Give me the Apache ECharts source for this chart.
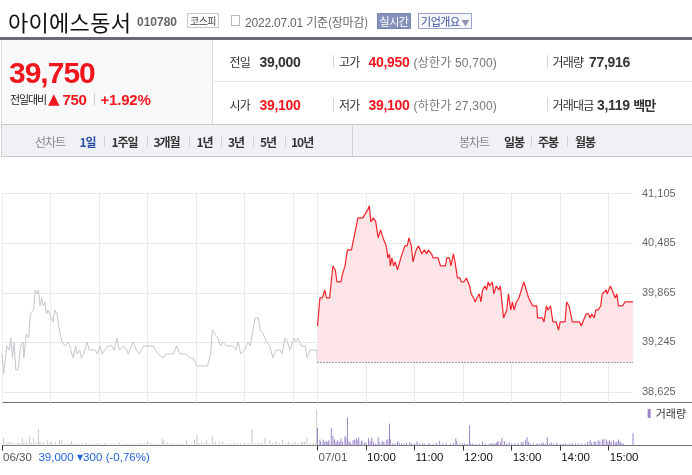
<!DOCTYPE html>
<html><head><meta charset="utf-8">
<script src="https://cdn.jsdelivr.net/npm/echarts@6/dist/echarts.min.js"></script>
<style>
html,body{margin:0;padding:0;background:#fff;width:692px;height:475px;overflow:hidden;}
#chart{position:absolute;left:0;top:0;width:692px;height:475px;}
#hdr{position:absolute;left:0;top:0;width:692px;height:160px;z-index:5;font-family:"Liberation Sans","Noto Sans CJK KR",sans-serif;}
.t{position:absolute;white-space:nowrap;}
.box{position:absolute;box-sizing:border-box;text-align:center;white-space:nowrap;}
.ln{position:absolute;}
.kr{font-family:"Noto Sans CJK KR",sans-serif;}
.red{color:#f0161e;}
</style></head>
<body>
<div id="chart"></div>
<div id="hdr">
  <!-- title row -->
  <div class="t kr" style="left:8px;top:7px;font-size:22px;line-height:28px;letter-spacing:0.3px;color:#111;">아이에스동서</div>
  <div class="t" style="left:137px;top:15px;font-size:12px;line-height:14px;font-weight:bold;color:#666;">010780</div>
  <div class="box kr" style="left:187px;top:13px;width:32px;height:15px;border:1px solid #c8c8c8;font-size:10px;line-height:13px;color:#444;letter-spacing:-0.5px;">코스피</div>
  <div class="box" style="left:231px;top:15px;width:9px;height:11px;border:1px solid #b8b8b8;"></div>
  <div class="t" style="left:245px;top:14px;font-size:12px;line-height:15px;color:#666;letter-spacing:-0.2px;">2022.07.01 <span class="kr">기준(장마감)</span></div>
  <div class="box kr" style="left:377px;top:13px;width:34px;height:16px;background:#8492bc;border:1px solid #7784ae;color:#fff;font-size:11px;line-height:14px;letter-spacing:-0.5px;">실시간</div>
  <div class="box kr" style="left:418px;top:13px;width:54px;height:16px;background:#f5f6fa;border:1px solid #9aa4ca;color:#3c4fa0;font-size:11px;line-height:14px;letter-spacing:-0.5px;">기업개요 <span style="font-size:8px;color:#8a93b5;">▼</span></div>
  <div class="ln" style="left:0;top:37px;width:692px;height:3px;background:#686b73;"></div>
  <!-- left panel -->
  <div class="ln" style="left:1px;top:40px;width:210px;height:84px;background:#f9f9f9;border-right:1px solid #d8d8d8;border-left:1px solid #dcdcdc;"></div>
  <div class="t red" style="left:9px;top:57px;font-size:30px;line-height:32px;font-weight:bold;letter-spacing:-1px;">39,750</div>
  <div class="t kr" style="left:10px;top:92px;font-size:11px;line-height:15px;letter-spacing:-1.1px;color:#222;">전일대비</div>
  <div class="t red" style="left:48px;top:91px;font-size:15px;line-height:17px;font-family:'DejaVu Sans';">▲</div>
  <div class="t red" style="left:62.5px;top:91px;font-size:15px;line-height:17px;font-weight:bold;letter-spacing:-0.3px;">750</div>
  <div class="ln" style="left:94px;top:93px;width:1px;height:13px;background:#cfcfcf;"></div>
  <div class="t red" style="left:100.5px;top:91px;font-size:15px;line-height:17px;font-weight:bold;letter-spacing:-0.2px;">+1.92%</div>
  <!-- info rows -->
  <div class="ln" style="left:212px;top:81px;width:480px;height:1px;background:#e6e6e6;"></div>
  <div class="t kr" style="left:229.5px;top:54px;font-size:12px;line-height:15px;letter-spacing:-0.8px;color:#333;">전일</div>
  <div class="t" style="left:259.5px;top:54px;font-size:14px;line-height:16px;font-weight:bold;letter-spacing:-0.3px;color:#333;">39,000</div>
  <div class="ln" style="left:333px;top:55px;width:1px;height:13px;background:#d5d5d5;"></div>
  <div class="t kr" style="left:339px;top:54px;font-size:12px;line-height:15px;letter-spacing:-0.8px;color:#333;">고가</div>
  <div class="t red" style="left:368.5px;top:54px;font-size:14px;line-height:16px;font-weight:bold;letter-spacing:-0.3px;">40,950</div>
  <div class="t" style="left:413.5px;top:54px;font-size:12px;line-height:15px;letter-spacing:0.2px;color:#777;">(<span class="kr">상한가</span> 50,700)</div>
  <div class="ln" style="left:547px;top:55px;width:1px;height:13px;background:#d5d5d5;"></div>
  <div class="t kr" style="left:552.5px;top:54px;font-size:12px;line-height:15px;letter-spacing:-0.8px;color:#333;">거래량</div>
  <div class="t" style="left:589px;top:54px;font-size:14px;line-height:16px;font-weight:bold;letter-spacing:-0.3px;color:#333;">77,916</div>

  <div class="t kr" style="left:229.5px;top:97px;font-size:12px;line-height:15px;letter-spacing:-0.8px;color:#333;">시가</div>
  <div class="t red" style="left:259.5px;top:97px;font-size:14px;line-height:16px;font-weight:bold;letter-spacing:-0.3px;">39,100</div>
  <div class="ln" style="left:333px;top:98px;width:1px;height:13px;background:#d5d5d5;"></div>
  <div class="t kr" style="left:339px;top:97px;font-size:12px;line-height:15px;letter-spacing:-0.8px;color:#333;">저가</div>
  <div class="t red" style="left:368.5px;top:97px;font-size:14px;line-height:16px;font-weight:bold;letter-spacing:-0.3px;">39,100</div>
  <div class="t" style="left:413.5px;top:97px;font-size:12px;line-height:15px;letter-spacing:0.2px;color:#777;">(<span class="kr">하한가</span> 27,300)</div>
  <div class="ln" style="left:547px;top:98px;width:1px;height:13px;background:#d5d5d5;"></div>
  <div class="t kr" style="left:552.5px;top:97px;font-size:12px;line-height:15px;letter-spacing:-0.8px;color:#333;">거래대금</div>
  <div class="t" style="left:597px;top:97px;font-size:14px;line-height:16px;font-weight:bold;letter-spacing:-0.3px;color:#333;">3,119 <span class="kr" style="font-size:13px;letter-spacing:-1px;">백만</span></div>
  <!-- tab bar -->
  <div class="ln" style="left:1px;top:124px;width:691px;height:31px;background:#f0f1f5;border-top:1px solid #c8c8cc;border-bottom:1px solid #c8c8cc;border-left:1px solid #d0d0d4;"></div>
  <div class="ln" style="left:352px;top:125px;width:1px;height:31px;background:#cfd0d6;"></div>
  <div class="t kr" style="left:35px;top:134px;font-size:12px;line-height:15px;letter-spacing:-1px;color:#888;">선차트</div>
  <div class="t kr" style="left:79.5px;top:134px;font-size:12px;line-height:15px;letter-spacing:-1px;color:#2b4ea9;font-weight:bold;">1일</div>
  <div class="ln" style="left:103.5px;top:136px;width:1px;height:11px;background:#d0d0d0;"></div>
  <div class="t kr" style="left:111.5px;top:134px;font-size:12px;line-height:15px;letter-spacing:-1px;color:#333;font-weight:bold;">1주일</div>
  <div class="ln" style="left:147px;top:136px;width:1px;height:11px;background:#d0d0d0;"></div>
  <div class="t kr" style="left:153.5px;top:134px;font-size:12px;line-height:15px;letter-spacing:-1px;color:#333;font-weight:bold;">3개월</div>
  <div class="ln" style="left:189px;top:136px;width:1px;height:11px;background:#d0d0d0;"></div>
  <div class="t kr" style="left:196.5px;top:134px;font-size:12px;line-height:15px;letter-spacing:-1px;color:#333;font-weight:bold;">1년</div>
  <div class="ln" style="left:220.5px;top:136px;width:1px;height:11px;background:#d0d0d0;"></div>
  <div class="t kr" style="left:228px;top:134px;font-size:12px;line-height:15px;letter-spacing:-1px;color:#333;font-weight:bold;">3년</div>
  <div class="ln" style="left:253px;top:136px;width:1px;height:11px;background:#d0d0d0;"></div>
  <div class="t kr" style="left:260px;top:134px;font-size:12px;line-height:15px;letter-spacing:-1px;color:#333;font-weight:bold;">5년</div>
  <div class="ln" style="left:284.5px;top:136px;width:1px;height:11px;background:#d0d0d0;"></div>
  <div class="t kr" style="left:291px;top:134px;font-size:12px;line-height:15px;letter-spacing:-1px;color:#333;font-weight:bold;">10년</div>
  <div class="t kr" style="left:459px;top:134px;font-size:12px;line-height:15px;letter-spacing:-1px;color:#888;">봉차트</div>
  <div class="t kr" style="left:504px;top:134px;font-size:12px;line-height:15px;letter-spacing:-1px;color:#333;font-weight:bold;">일봉</div>
  <div class="ln" style="left:531px;top:136px;width:1px;height:11px;background:#d0d0d0;"></div>
  <div class="t kr" style="left:538px;top:134px;font-size:12px;line-height:15px;letter-spacing:-1px;color:#333;font-weight:bold;">주봉</div>
  <div class="ln" style="left:567px;top:136px;width:1px;height:11px;background:#d0d0d0;"></div>
  <div class="t kr" style="left:575px;top:134px;font-size:12px;line-height:15px;letter-spacing:-1px;color:#333;font-weight:bold;">월봉</div>
</div>
<script>
// ---- axis definition (minutes from 06/30 09:00; 07/01 09:00 = 390) ----
const days = ['06/30', '07/01'];
const minutesPerDay = 390;
const tickIdx = [0, 390, 450, 510, 570, 630, 690, 750];
const tickLabels = ['06/30', '07/01', '10:00', '11:00', '12:00', '13:00', '14:00', '15:00'];
const gridIdx = [0, 60, 120, 180, 240, 300, 360, 390, 450, 510, 570, 630, 690, 750];
const prevDayText = ['39,000', '▼', '300', '(-0,76%)'];

// ---- price axis ----
const priceMin = 38625, priceMax = 41105, priceStep = 620;
const prevClose = 39000;

// ---- 06/30 price line (gray) ----
const grayT = [0,2,6,9,11,13,15,17,20,23,26,27,30,33,35,37,39,41,43,45,47,49,51,53,55,57,59,63,65,68,70,74,78,82,85,88,91,93,96,98,101,105,108,115,118,121,124,127,131,136,139,142,145,150,154,156,162,166,170,175,187,193,199,203,212,216,220,228,232,236,241,254,258,260,263,267,270,273,278,286,289,292,295,300,304,307,310,313,315,317,319,323,327,331,335,339,344,346,350,353,356,361,363,366,370,375,377,381,389,390];
const grayP = [39100,38850,39200,39150,39300,39050,39250,38900,38900,39200,39250,39050,39350,39300,39600,39600,39650,39900,39850,39900,39700,39800,39700,39750,39600,39650,39650,39500,39650,39600,39450,39250,39200,39250,39150,39050,39200,39100,39150,39050,39100,39250,39150,39150,39100,39200,39100,39150,39200,39200,39150,39300,39150,39200,39150,39100,39250,39150,39100,39200,39200,39100,39050,39100,39100,39200,39100,39100,39050,39050,38950,38950,39100,39400,39350,39300,39200,39250,39200,39200,39150,39250,39100,39150,39250,39200,39400,39550,39550,39550,39400,39350,39250,39200,39050,39150,39150,39100,39300,39250,39150,39300,39250,39300,39200,39200,39050,39150,39150,39000];

// ---- 07/01 price line (red) ----
const redT = [390,393,396,399,401,405,409,412,414,419,421,424,427,432,435,440,446,449,452,454,456,459,462,465,468,471,475,477,479,480,482,484,486,489,493,495,498,501,503,506,508,512,515,519,522,525,527,531,533,539,542,548,550,553,555,558,560,563,566,568,571,574,578,580,583,585,587,590,592,594,597,599,601,603,606,608,611,614,616,620,624,626,629,631,633,636,639,645,651,656,661,662,668,670,673,675,678,681,685,688,690,696,698,701,705,714,716,722,725,727,729,732,734,737,740,742,747,748,752,756,758,760,762,767,770,780];
const redP = [39450,39800,39800,39900,39800,39800,40200,40150,40000,40000,40100,40200,40400,40400,40550,40800,40800,40850,40900,40950,40750,40800,40750,40550,40650,40550,40450,40300,40350,40200,40300,40200,40250,40150,40300,40300,40450,40450,40550,40450,40250,40400,40450,40350,40400,40350,40400,40350,40300,40300,40200,40200,40300,40300,40200,40350,40250,40050,40050,40000,40000,40050,39950,39850,39800,39750,39800,39850,39750,39900,39950,39900,40000,39950,40000,39850,39950,39900,39950,39550,39650,39850,39650,39750,39650,39750,39800,40000,39800,39700,39700,39550,39550,39500,39700,39650,39700,39500,39500,39400,39500,39500,39750,39700,39500,39500,39450,39600,39600,39550,39600,39550,39650,39650,39700,39850,39900,39850,39950,39850,39800,39850,39700,39700,39750,39750];

// ---- volume (shares) ----
const volMax = 3000;
const volGrayT = [2,6,9,12,16,19,21,25,27,30,34,36,39,42,45,47,51,56,59,61,66,71,74,78,82,86,90,94,99,104,109,113,118,122,127,131,136,140,145,149,154,158,163,167,171,176,180,184,188,193,198,200,204,208,212,216,220,224,228,234,238,241,244,247,250,253,256,260,264,269,273,278,282,287,291,295,300,304,309,313,317,321,325,331,335,339,343,347,351,354,358,362,366,370,372,374,377,381,385,389];
const volGray = [540,210,250,210,140,140,180,560,210,260,610,210,540,210,1140,300,260,370,210,300,260,370,370,100,140,300,140,140,140,210,140,100,140,100,170,100,140,100,210,100,140,100,140,100,170,100,300,210,100,140,490,350,210,140,140,100,140,100,370,140,420,770,140,260,140,370,140,630,260,260,300,140,140,210,140,140,210,140,1150,140,210,140,550,390,210,280,140,390,140,280,140,280,140,280,280,280,540,140,210,2500];
const volRedT = [390,393,394,397,399,401,403,404,407,409,411,413,415,417,419,421,424,425,427,429,431,434,436,438,440,441,444,445,448,450,453,455,457,459,462,465,467,470,472,475,477,479,480,483,486,489,491,494,497,500,504,506,510,513,516,520,522,527,529,533,537,541,545,549,554,558,561,562,566,569,572,575,578,579,582,586,590,594,598,603,605,607,609,611,612,613,616,618,621,624,627,630,634,638,642,644,647,649,651,653,657,661,664,667,669,672,674,677,679,682,686,690,694,697,702,705,709,712,716,721,724,727,729,732,734,737,739,742,744,747,749,751,753,756,758,760,762,764,766,768,780];
const volRed = [1240,420,260,420,260,300,260,370,1240,680,440,260,370,260,490,260,650,540,1980,300,210,370,420,490,370,560,260,370,190,210,510,300,560,260,140,580,210,300,260,370,440,1560,440,140,140,300,210,140,140,190,210,140,140,300,140,140,140,140,140,100,190,330,140,140,140,190,490,300,140,140,140,100,1420,140,140,90,100,260,140,140,140,140,140,190,210,330,260,540,300,140,210,140,140,140,210,260,370,580,260,140,140,140,140,140,210,140,580,140,210,140,210,140,140,140,140,140,140,140,140,140,260,370,210,300,260,370,300,420,440,420,260,370,260,370,210,260,420,300,140,140,860];

// ---- build categories (one per minute) ----
const cats = [];
for (let i = 0; i <= 2 * minutesPerDay; i++) {
  const d = i < minutesPerDay ? 0 : 1;
  const m = i - d * minutesPerDay;
  const hh = 9 + Math.floor(m / 60), mm = m % 60;
  cats.push(days[d] + ' ' + String(hh).padStart(2, '0') + ':' + String(mm).padStart(2, '0'));
}
const tickSet = new Set(tickIdx);
const gridSet = new Set(gridIdx);
const zip = (a, b) => a.map((v, i) => [v, b[i]]);

const FONT = '"Liberation Sans", Arial, sans-serif';
const chart = echarts.init(document.getElementById('chart'), null, {renderer: 'canvas'});
chart.setOption({
  animation: false,
  textStyle: {fontFamily: FONT},
  grid: [
    {left: 2, right: 59, top: 193.5, height: 198.5},
    {left: 2, right: 59, top: 193.5, height: 209},
    {left: 2, right: 59, top: 403, height: 42.5}
  ],
  legend: {
    data: ['거래량'], right: 6, top: 408, padding: 0, itemGap: 0,
    icon: 'rect', itemWidth: 3, itemHeight: 9,
    textStyle: {fontSize: 11, color: '#333', fontFamily: '"Noto Sans CJK KR", sans-serif'}
  },
  xAxis: [
    {gridIndex: 0, type: 'category', data: cats, boundaryGap: false, show: false},
    {gridIndex: 1, type: 'category', data: cats, boundaryGap: false,
      axisLine: {show: false}, axisTick: {show: false}, axisLabel: {show: false},
      splitLine: {show: true, interval: (i) => gridSet.has(i), lineStyle: {color: '#ebebeb', width: 1}}},
    {gridIndex: 2, type: 'category', data: cats, boundaryGap: false,
      axisLine: {show: false},
      axisTick: {show: true, interval: (i) => tickSet.has(i), length: 5, lineStyle: {color: '#333', width: 1}},
      axisLabel: {
        show: true, interval: (i) => tickSet.has(i), align: 'left', margin: 6, padding: [0, 0, 0, 1],
        formatter: (v, i) => {
          const k = tickIdx.indexOf(i);
          if (k < 0) return '';
          if (k === 0) return '{g|' + tickLabels[0] + '}  {b|' + prevDayText[0] + '} {s|' + prevDayText[1] + '}{b|' + prevDayText[2] + '} {b|' + prevDayText[3] + '}';
          if (k === 1) return '{g|' + tickLabels[1] + '}';
          return '{k|' + tickLabels[k] + '}';
        },
        rich: {
          g: {color: '#555', fontSize: 11.5, fontFamily: FONT, lineHeight: 13},
          b: {color: '#1f64d8', fontSize: 11.5, fontFamily: FONT, lineHeight: 13},
          s: {color: '#1f64d8', fontSize: 8, fontFamily: 'DejaVu Sans', lineHeight: 13},
          k: {color: '#111', fontSize: 11.5, fontFamily: FONT, lineHeight: 13}
        }
      },
      splitLine: {show: false}}
  ],
  yAxis: [
    {gridIndex: 0, type: 'value', position: 'right', min: priceMin, max: priceMax, interval: priceStep,
      axisLine: {show: false}, axisTick: {show: false},
      axisLabel: {color: '#666', fontSize: 11, margin: 9, fontFamily: FONT,
        formatter: (v) => Math.round(v).toLocaleString('en-US')},
      splitLine: {show: true, lineStyle: {color: '#e9e9e9', width: 1}}},
    {gridIndex: 1, type: 'value', show: false},
    {gridIndex: 2, type: 'value', show: false, min: 0, max: volMax}
  ],
  graphic: [
    {type: 'line', shape: {x1: 2, y1: 402.5, x2: 692, y2: 402.5}, style: {stroke: '#737373', lineWidth: 1}, silent: true},
    {type: 'line', shape: {x1: 2, y1: 445.5, x2: 692, y2: 445.5}, style: {stroke: '#737373', lineWidth: 1}, silent: true}
  ],
  series: [
    {name: '06/30', type: 'line', xAxisIndex: 0, yAxisIndex: 0, data: zip(grayT, grayP),
      symbol: 'none', lineStyle: {color: '#c5c6cb', width: 1}, z: 3, silent: true},
    {name: '07/01', type: 'line', xAxisIndex: 0, yAxisIndex: 0, data: zip(redT, redP),
      symbol: 'none', lineStyle: {color: '#f2242e', width: 1.2}, z: 4, silent: true,
      areaStyle: {color: '#fde4e7', opacity: 1, origin: prevClose},
      markLine: {silent: true, symbol: 'none', label: {show: false},
        lineStyle: {color: '#444', width: 1, type: [1, 2]},
        data: [[{coord: [minutesPerDay, prevClose]}, {coord: [2 * minutesPerDay, prevClose]}]]}},
    {name: '거래량(06/30)', type: 'bar', xAxisIndex: 2, yAxisIndex: 2, data: zip(volGrayT, volGray),
      barWidth: 1, barGap: '-100%', itemStyle: {color: '#c8c8c8'}, silent: true},
    {name: '거래량', type: 'bar', xAxisIndex: 2, yAxisIndex: 2, data: zip(volRedT, volRed),
      barWidth: 1, barGap: '-100%', itemStyle: {color: '#9886c9'}, silent: true}
  ]
});
</script>
</body></html>
